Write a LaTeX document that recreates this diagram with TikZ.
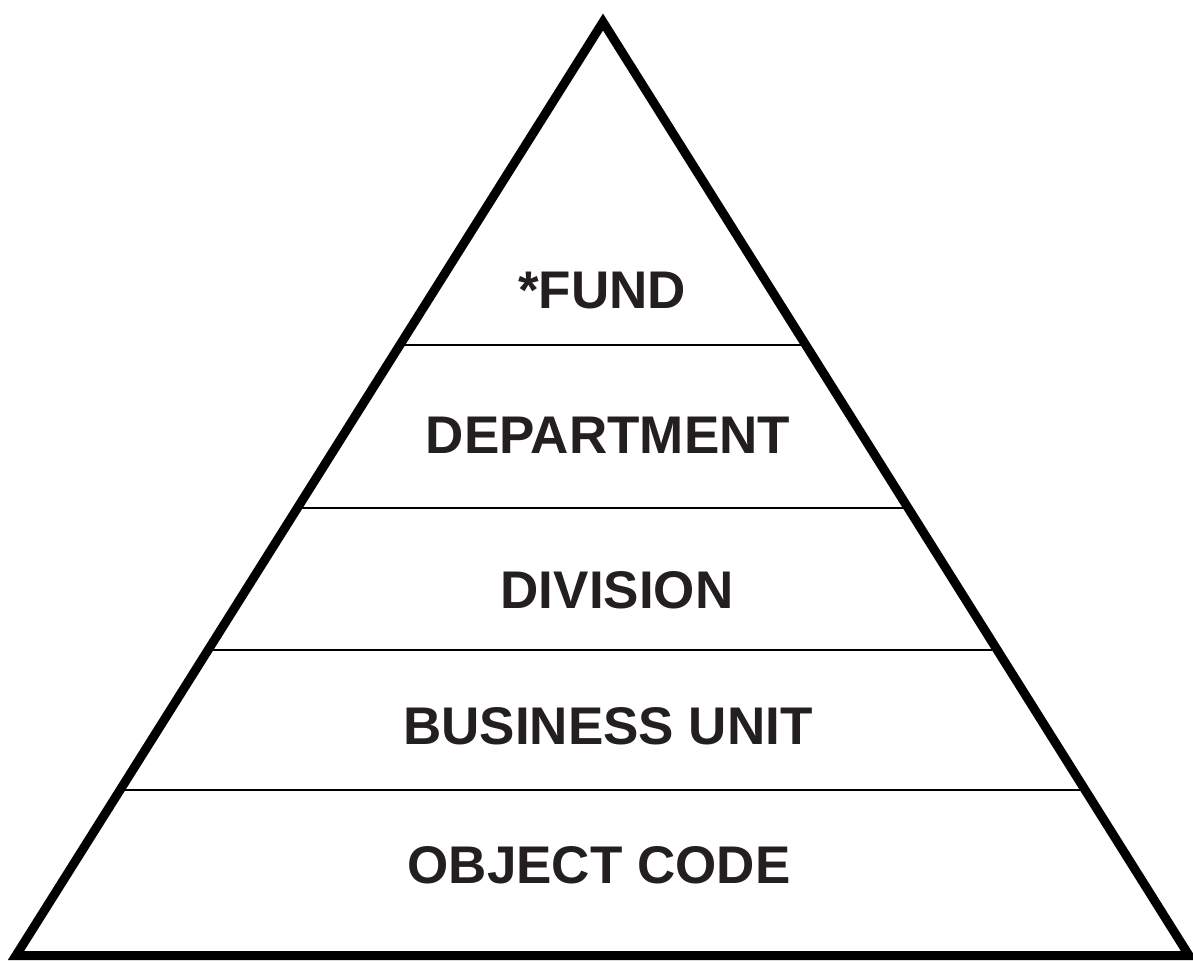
\documentclass[tikz,border=0pt]{standalone}
\usepackage{fontspec}
\setmainfont{Liberation Sans}
\usetikzlibrary{calc}
\definecolor{ink}{HTML}{231F20}

\tikzset{
  level/.style={anchor=base, text=ink, font=\fontsize{53}{60}\selectfont\bfseries},
  edge/.style={line width=9pt, miter limit=20},
  divider/.style={line width=2pt}
}

\begin{document}
\begin{tikzpicture}[x=1pt,y=-1pt]
\useasboundingbox (0,0) rectangle (1193,961);
% the pyramid
\coordinate (top) at (603,22);
\coordinate (bl) at (16,955.5);
\coordinate (br) at (1189,955.5);
\draw[edge] (top) -- (bl) -- (br) -- cycle;
% the dividing lines
\foreach \t [count=\i] in {0.3462,0.5209,0.6731,0.8232}{
  \coordinate (l\i) at ($(top)!\t!(bl)$);
  \coordinate (r\i) at ($(top)!\t!(br)$);
  \draw[divider] (l\i) -- (r\i);
}
% the levels
\node[level] (fund) at (602,308) {*FUND};
\node[level] (dept) at (608,453) {DEPARTMENT};
\node[level] (div) at (617,608) {DIVISION};
\node[level] (bu) at (608,744) {BUSINESS UNIT};
\node[level] (obj) at (599,883) {OBJECT CODE};
\end{tikzpicture}
\end{document}
